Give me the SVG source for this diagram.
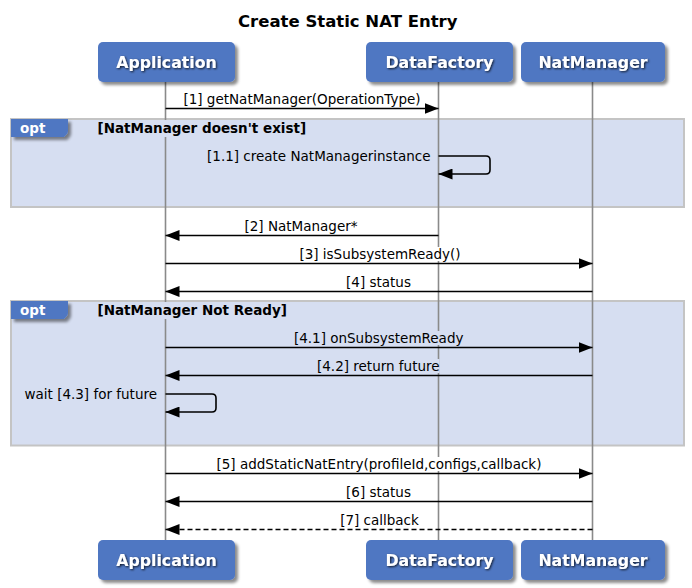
<svg xmlns="http://www.w3.org/2000/svg" width="692" height="588" viewBox="0 0 692 588">
<defs>
<filter id="boxShadow" x="-10%" y="-10%" width="130%" height="140%">
<feDropShadow dx="3" dy="3" stdDeviation="1.8" flood-color="#000" flood-opacity="0.45"/>
</filter>
<filter id="textShadow" x="-10%" y="-30%" width="120%" height="160%">
<feDropShadow dx="1" dy="1" stdDeviation="1" flood-color="#000" flood-opacity="0.8"/>
</filter>
<marker id="arrow" viewBox="0 0 14 11" refX="14" refY="5.5" markerWidth="14" markerHeight="11" markerUnits="userSpaceOnUse" orient="auto">
<path d="M0,0 L14,5.5 L0,11 Z" fill="#000"/>
</marker>
</defs>
<style>
.title{font-family:"DejaVu Sans",sans-serif;font-size:16.5px;font-weight:bold;fill:#000}
.pbox{fill:#5077C2;filter:url(#boxShadow)}
.ptext{font-family:"DejaVu Sans",sans-serif;font-size:15.75px;font-weight:bold;fill:#fff;text-anchor:middle;filter:url(#textShadow)}
.life{stroke:#8a8a8a;stroke-width:1.6;fill:none}
.frame{fill:#D6DEF1;stroke:#c4c4c4;stroke-width:2}
.fhead{fill:#D6DEF1}
.tab{fill:#5077C2;filter:url(#boxShadow)}
.tabtext{font-family:"DejaVu Sans",sans-serif;font-size:13.5px;font-weight:bold;fill:#fff}
.cond{font-family:"DejaVu Sans",sans-serif;font-size:13.5px;font-weight:bold;fill:#000}
.msg{stroke:#000;stroke-width:1.6;fill:none;marker-end:url(#arrow)}
.dash{stroke-dasharray:5,3}
.lbl{font-family:"DejaVu Sans",sans-serif;font-size:13.5px;fill:#000;text-anchor:middle}
.lblr{font-family:"DejaVu Sans",sans-serif;font-size:13.5px;fill:#000;text-anchor:end}
.bgw{fill:#fff}
.bgf{fill:#D6DEF1}
</style>

<text class="title" x="238" y="27">Create Static NAT Entry</text>

<g id="frames">
<rect class="frame" x="11" y="119" width="673" height="88"/>
<rect class="frame" x="11" y="301" width="673" height="144.5"/>
</g>

<g id="lifelines">
<line class="life" x1="165.5" y1="82" x2="165.5" y2="540"/>
<line class="life" x1="438.5" y1="82" x2="438.5" y2="540"/>
<line class="life" x1="592.5" y1="82" x2="592.5" y2="540"/>
</g>

<g id="opt1">
<rect class="fhead" x="12" y="120" width="300" height="17"/>
<path class="tab" d="M11,119 H68 V131 Q68,133 66,135 L64,137 H11 Z"/>
<text class="tabtext" x="20" y="132.5">opt</text>
<text class="cond" x="97.5" y="132.5">[NatManager doesn't exist]</text>
</g>

<g id="opt2">
<rect class="fhead" x="12" y="302" width="280" height="17"/>
<path class="tab" d="M11,301 H68 V313 Q68,315 66,317 L64,319 H11 Z"/>
<text class="tabtext" x="20" y="314.5">opt</text>
<text class="cond" x="97.5" y="314.5">[NatManager Not Ready]</text>
</g>

<g id="connectors">
<text class="lbl" x="302" y="104">[1] getNatManager(OperationType)</text>
<line class="msg" x1="165.5" y1="108.5" x2="438.5" y2="108.5"/>

<text class="lblr" x="430.5" y="160.5">[1.1] create NatManagerinstance</text>
<path class="msg" d="M438.5,156 H486 Q490,156 490,160 V170 Q490,174 486,174 H438.5"/>

<text class="lbl" x="301" y="230.5">[2] NatManager*</text>
<line class="msg" x1="438.5" y1="235.5" x2="165.5" y2="235.5"/>

<rect class="bgw" x="299" y="247" width="162" height="14"/>
<text class="lbl" x="380" y="258.5">[3] isSubsystemReady()</text>
<line class="msg" x1="165.5" y1="263.5" x2="592.5" y2="263.5"/>

<text class="lbl" x="378.5" y="286.5">[4] status</text>
<line class="msg" x1="592.5" y1="291.5" x2="165.5" y2="291.5"/>

<rect class="bgf" x="295" y="331" width="167" height="14"/>
<text class="lbl" x="378.7" y="342.5">[4.1] onSubsystemReady</text>
<line class="msg" x1="165.5" y1="347.5" x2="592.5" y2="347.5"/>

<rect class="bgf" x="317.5" y="359" width="122" height="14"/>
<text class="lbl" x="378.3" y="370.5">[4.2] return future</text>
<line class="msg" x1="592.5" y1="375.5" x2="165.5" y2="375.5"/>

<text class="lblr" x="157" y="399">wait [4.3] for future</text>
<path class="msg" d="M165.5,394 H212 Q216,394 216,398 V408 Q216,412 212,412 H165.5"/>

<rect class="bgw" x="219" y="457" width="320" height="14"/>
<text class="lbl" x="379" y="468.5">[5] addStaticNatEntry(profileId,configs,callback)</text>
<line class="msg" x1="165.5" y1="473.5" x2="592.5" y2="473.5"/>

<text class="lbl" x="378.5" y="496.5">[6] status</text>
<line class="msg" x1="592.5" y1="501.5" x2="165.5" y2="501.5"/>

<text class="lbl" x="379.5" y="524.5">[7] callback</text>
<line class="msg dash" x1="592.5" y1="529.5" x2="165.5" y2="529.5"/>
</g>

<g id="Application-top">
<rect class="pbox" x="98" y="42" width="137" height="40" rx="5"/>
<text class="ptext" x="166.5" y="67.5">Application</text>
</g>
<g id="DataFactory-top">
<rect class="pbox" x="366" y="42" width="147" height="40" rx="5"/>
<text class="ptext" x="439.5" y="67.5">DataFactory</text>
</g>
<g id="NatManager-top">
<rect class="pbox" x="521" y="42" width="144" height="40" rx="5"/>
<text class="ptext" x="593" y="67.5">NatManager</text>
</g>
<g id="Application-bottom">
<rect class="pbox" x="98" y="540" width="137" height="40" rx="5"/>
<text class="ptext" x="166.5" y="565.5">Application</text>
</g>
<g id="DataFactory-bottom">
<rect class="pbox" x="366" y="540" width="147" height="40" rx="5"/>
<text class="ptext" x="439.5" y="565.5">DataFactory</text>
</g>
<g id="NatManager-bottom">
<rect class="pbox" x="521" y="540" width="144" height="40" rx="5"/>
<text class="ptext" x="593" y="565.5">NatManager</text>
</g>
</svg>
